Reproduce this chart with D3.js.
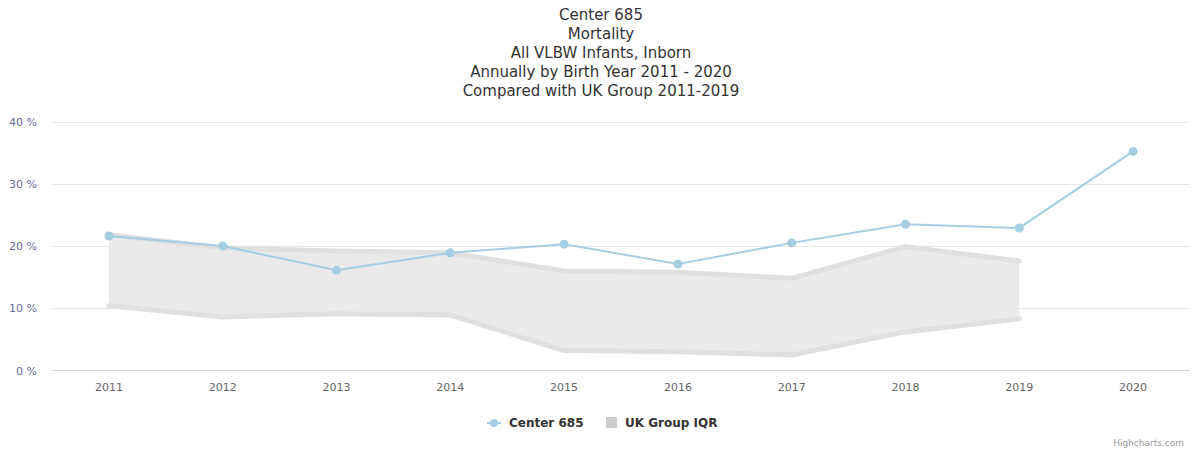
<!DOCTYPE html>
<html>
<head>
<meta charset="utf-8">
<script src="https://cdn.jsdelivr.net/npm/d3@7"></script>
<style>
  body { margin: 0; background: #fff; }
  svg { font-family: "DejaVu Sans", Verdana, sans-serif; }
</style>
</head>
<body>
<div id="chart"></div>
<script>
// --- données ---
const annees = ["2011","2012","2013","2014","2015","2016","2017","2018","2019","2020"];
const centre = [21.6, 20.0, 16.1, 18.9, 20.3, 17.1, 20.5, 23.5, 22.9, 35.2];
const iqrHaut = [21.8, 19.7, 19.2, 18.9, 16.0, 15.8, 14.8, 19.9, 17.6];
const iqrBas  = [10.4, 8.6, 9.1, 8.9, 3.2, 3.0, 2.5, 6.2, 8.3];
const ticksY = [0, 10, 20, 30, 40];
const titres = ["Center 685", "Mortality", "All VLBW Infants, Inborn",
  "Annually by Birth Year 2011 - 2020", "Compared with UK Group 2011-2019"];

const largeur = 1192, hauteur = 450;
const marge = { gauche: 52, droite: 1190, haut: 121.5, bas: 370.5 };

const svg = d3.select("#chart").append("svg")
  .attr("width", largeur).attr("height", hauteur);

// titre
svg.append("g").selectAll("text").data(titres).join("text")
  .attr("x", 601).attr("y", (d, i) => 20 + i * 19)
  .attr("text-anchor", "middle")
  .attr("font-size", 15).attr("fill", "#333")
  .text(d => d);

// échelles
const x = d3.scaleBand().domain(annees).range([marge.gauche, marge.droite]);
const cx = d => x(d) + x.bandwidth() / 2;
const y = d3.scaleLinear().domain([0, 40]).range([marge.bas, marge.haut]);

// grille
svg.append("g").selectAll("line").data(ticksY.slice(1)).join("line")
  .attr("x1", marge.gauche).attr("x2", marge.droite)
  .attr("y1", d => Math.round(y(d)) + 0.5).attr("y2", d => Math.round(y(d)) + 0.5)
  .attr("stroke", "#e6e6e6");

// axe y (étiquettes)
svg.append("g").selectAll("text").data(ticksY).join("text")
  .attr("x", 37).attr("y", d => y(d) + 4)
  .attr("text-anchor", "end").attr("font-size", 11).attr("fill", "#666b99")
  .text(d => d + " %");

// zone IQR
const donneesIqr = iqrHaut.map((h, i) => ({ annee: annees[i], h, b: iqrBas[i] }));
const aire = d3.area().x(d => cx(d.annee)).y0(d => y(d.b)).y1(d => y(d.h));
svg.append("path").datum(donneesIqr).attr("d", aire).attr("fill", "#eaeaea");
const ligneH = d3.line().x(d => cx(d.annee)).y(d => y(d.h));
const ligneB = d3.line().x(d => cx(d.annee)).y(d => y(d.b));
[ligneH, ligneB].forEach(l => {
  svg.append("path").datum(donneesIqr).attr("d", l)
    .attr("fill", "none").attr("stroke", "#e0e0e0").attr("stroke-width", 5)
    .attr("stroke-linejoin", "round").attr("stroke-linecap", "round");
});

// axe x
svg.append("line")
  .attr("x1", marge.gauche).attr("x2", marge.droite)
  .attr("y1", marge.bas).attr("y2", marge.bas)
  .attr("stroke", "#ccd6eb");
svg.append("g").selectAll("text").data(annees).join("text")
  .attr("x", d => cx(d)).attr("y", 391)
  .attr("text-anchor", "middle").attr("font-size", 11).attr("fill", "#666")
  .text(d => d);

// série centre
const donneesC = centre.map((v, i) => ({ annee: annees[i], v }));
svg.append("path").datum(donneesC)
  .attr("d", d3.line().x(d => cx(d.annee)).y(d => y(d.v)))
  .attr("fill", "none").attr("stroke", "#a6cee3").attr("stroke-width", 2);
svg.append("g").selectAll("circle").data(donneesC).join("circle")
  .attr("cx", d => cx(d.annee)).attr("cy", d => y(d.v)).attr("r", 4.5)
  .attr("fill", "#a6cee3");

// légende
const leg = svg.append("g").attr("font-size", 12).attr("font-weight", "bold").attr("fill", "#333");
leg.append("line").attr("x1", 487).attr("x2", 501).attr("y1", 423).attr("y2", 423)
  .attr("stroke", "#a6cee3").attr("stroke-width", 2);
leg.append("circle").attr("cx", 494).attr("cy", 423).attr("r", 4).attr("fill", "#a6cee3");
leg.append("text").attr("x", 509).attr("y", 427).text("Center 685");
leg.append("rect").attr("x", 606).attr("y", 417).attr("width", 11).attr("height", 11)
  .attr("fill", "#cccccc");
leg.append("text").attr("x", 625).attr("y", 427).text("UK Group IQR");

// crédits
svg.append("text").attr("x", 1184).attr("y", 446).attr("text-anchor", "end")
  .attr("font-size", 9).attr("fill", "#999").text("Highcharts.com");
</script>
</body>
</html>
